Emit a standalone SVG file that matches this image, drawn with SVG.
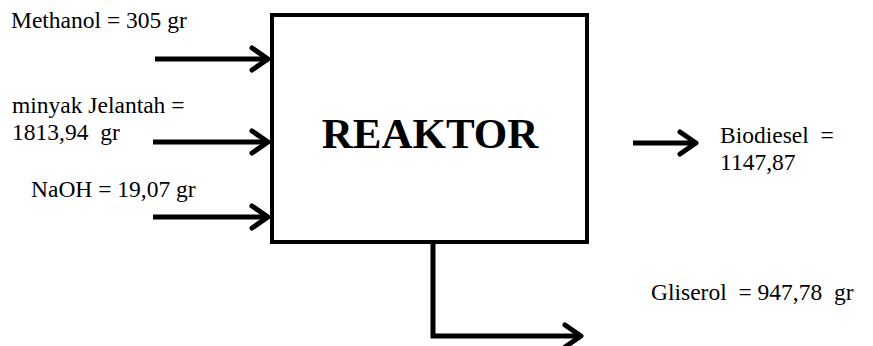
<svg xmlns="http://www.w3.org/2000/svg" width="873" height="346" viewBox="0 0 873 346">
<style>
text{font-family:"Liberation Serif","Times New Roman",serif;fill:#000}
.t{font-size:23.5px}
.ln{fill:none;stroke:#000;stroke-width:5}
.hd{fill:none;stroke:#000;stroke-width:5;stroke-linecap:round;stroke-linejoin:round}
</style>
<rect width="873" height="346" fill="#fff"/>
<g id="reaktor">
<rect x="272" y="15" width="315" height="227" fill="#fff" stroke="#000" stroke-width="4"/>
<text x="430" y="148" font-size="43" font-weight="bold" text-anchor="middle">REAKTOR</text>
</g>
<g id="methanol"><text class="t" x="11" y="28">Methanol = 305 gr</text></g>
<g id="minyak"><text class="t" x="12" y="113">minyak Jelantah =</text><text class="t" x="12" y="140" xml:space="preserve">1813,94  gr</text></g>
<g id="naoh"><text class="t" x="31" y="197">NaOH = 19,07 gr</text></g>
<g id="biodiesel"><text class="t" x="720" y="143" xml:space="preserve">Biodiesel  =</text><text class="t" x="720" y="170">1147,87</text></g>
<g id="gliserol"><text class="t" x="651" y="300" xml:space="preserve">Gliserol  = 947,78  gr</text></g>
<g id="connectors">
<line class="ln" x1="155" y1="59" x2="268" y2="59"/>
<polyline class="hd" points="252,48 268,59 252,70"/>
<line class="ln" x1="153" y1="142" x2="268" y2="142"/>
<polyline class="hd" points="252,131 268,142 252,153"/>
<line class="ln" x1="153" y1="217" x2="268" y2="217"/>
<polyline class="hd" points="252,206 268,217 252,228"/>
<line class="ln" x1="633" y1="143" x2="696" y2="143"/>
<polyline class="hd" points="680,132 696,143 680,154"/>
<polyline class="ln" points="433,242 433,336 580,336"/>
<polyline class="hd" points="565,325 581,336 565,347"/>
</g>
</svg>
